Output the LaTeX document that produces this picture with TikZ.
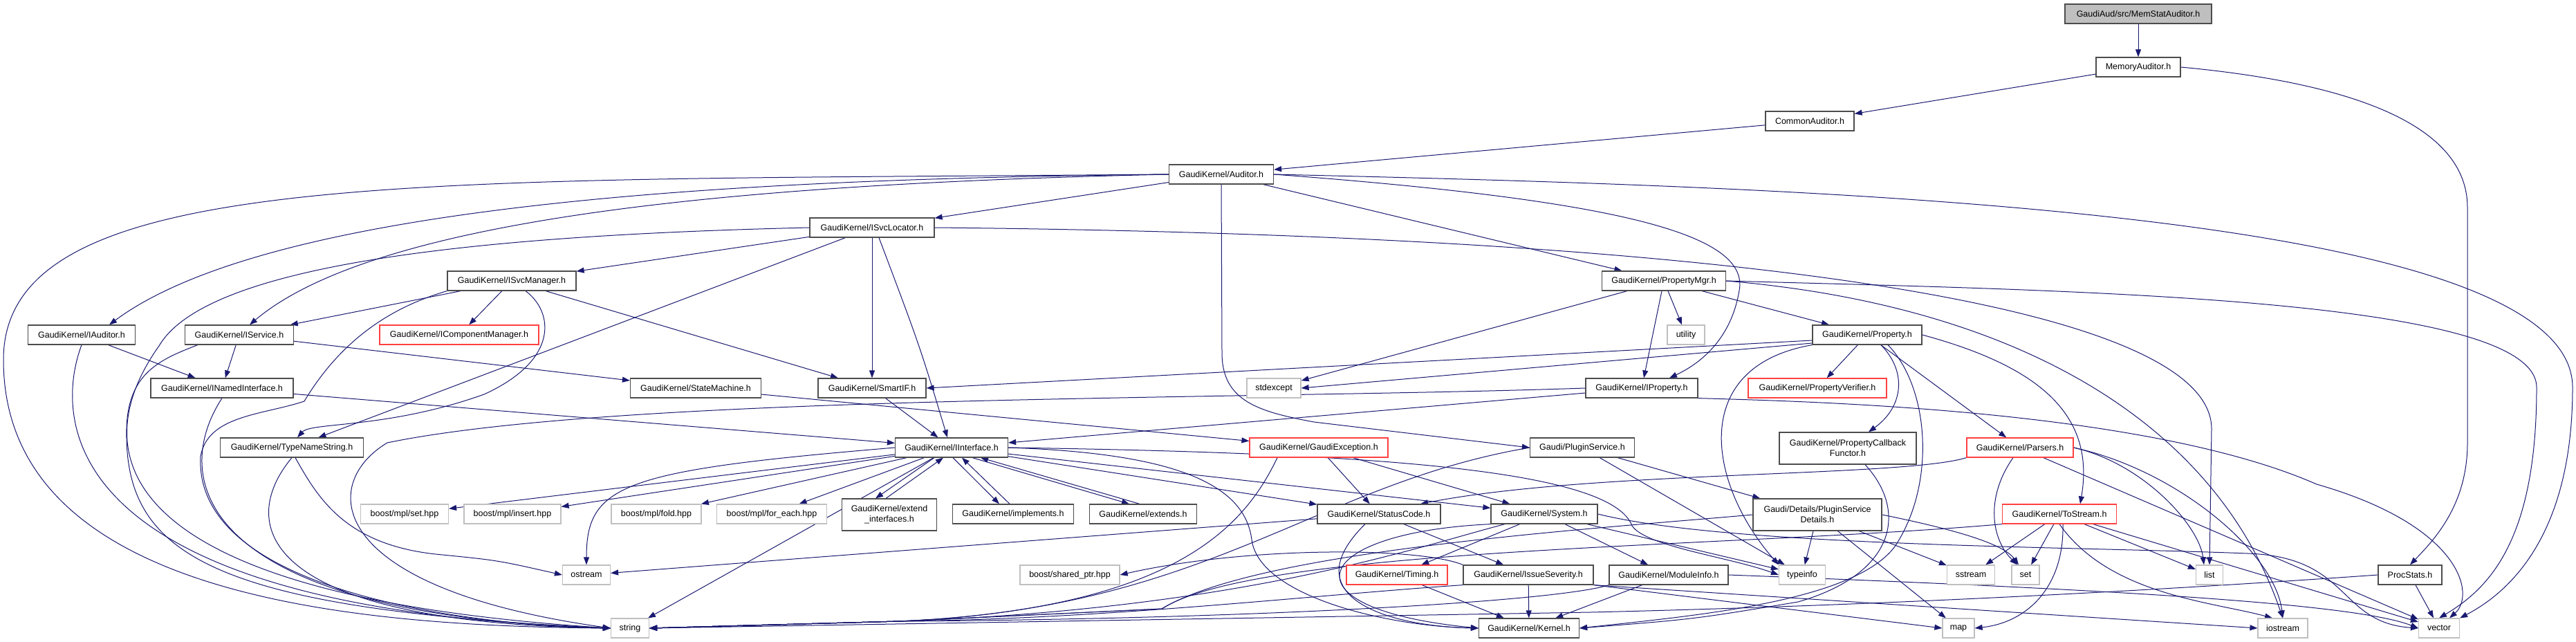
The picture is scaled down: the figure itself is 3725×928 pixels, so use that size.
\documentclass[tikz,border=0pt]{standalone}
\usepackage{fontspec}
\setmainfont{Liberation Sans}
\usetikzlibrary{arrows.meta,backgrounds}

\definecolor{edgeblue}{HTML}{191970}
\definecolor{boxgray}{HTML}{BFBFBF}
\definecolor{truncred}{HTML}{FF4040}

\tikzset{
  hdr/.style={draw=black!70, fill=white, line width=1.2bp, minimum height=28bp,
    inner xsep=2bp, inner ysep=1bp, font=\fontsize{12.5bp}{15bp}\selectfont},
  sys/.style={hdr, draw=boxgray},
  trunc/.style={hdr, draw=truncred},
  root/.style={hdr, fill=boxgray},
  twoline/.style={minimum height=46bp, align=center},
  inc/.style={draw=edgeblue, line width=1bp, -{Triangle[length=11bp,width=8bp]}}
}

\begin{document}
\begin{tikzpicture}[x=1bp, y=-1bp]
	\useasboundingbox (0,0) rectangle (3725,928);

	% rank 0 - 3
	\node[root, minimum width=212bp] (stat) at (3092,20) {GaudiAud/src/MemStatAuditor.h};
	\node[hdr, minimum width=122bp] (mem) at (3092,97) {MemoryAuditor.h};
	\node[hdr, minimum width=128bp] (common) at (2617,175) {CommonAuditor.h};
	\node[hdr, minimum width=151bp] (aud) at (1766,252) {GaudiKernel/Auditor.h};
	\node[hdr, minimum width=180bp] (svcloc) at (1261,329) {GaudiKernel/ISvcLocator.h};
	\node[hdr, minimum width=179bp] (pmgr) at (2406,406) {GaudiKernel/PropertyMgr.h};
	\node[hdr, minimum width=186bp] (svcmgr) at (740,406) {GaudiKernel/ISvcManager.h};

	% rank 4
	\node[hdr, minimum width=155bp] (iaud) at (118,484) {GaudiKernel/IAuditor.h};
	\node[hdr, minimum width=157bp] (isvc) at (346,484) {GaudiKernel/IService.h};
	\node[trunc, minimum width=230bp] (icm) at (664,484) {GaudiKernel/IComponentManager.h};
	\node[sys, minimum width=54bp] (util) at (2438,484) {utility};
	\node[hdr, minimum width=158bp] (prop) at (2700,484) {GaudiKernel/Property.h};

	% rank 5
	\node[hdr, minimum width=206bp] (inamed) at (321,561) {GaudiKernel/INamedInterface.h};
	\node[hdr, minimum width=189bp] (statem) at (1006,561) {GaudiKernel/StateMachine.h};
	\node[hdr, minimum width=156bp] (smartif) at (1261,561) {GaudiKernel/SmartIF.h};
	\node[sys, minimum width=78bp] (stdexc) at (1842,561) {stdexcept};
	\node[hdr, minimum width=162bp] (iprop) at (2374,561) {GaudiKernel/IProperty.h};
	\node[trunc, minimum width=200bp] (pverif) at (2628,561) {GaudiKernel/PropertyVerifier.h};

	% rank 6
	\node[hdr, minimum width=207bp] (tns) at (422,647) {GaudiKernel/TypeNameString.h};
	\node[hdr, minimum width=163bp] (iiface) at (1376,647) {GaudiKernel/IInterface.h};
	\node[trunc, minimum width=200bp] (gexc) at (1907,647) {GaudiKernel/GaudiException.h};
	\node[hdr, minimum width=151bp] (plugin) at (2288,647) {Gaudi/PluginService.h};
	\node[hdr, twoline, minimum width=198bp] (pcb) at (2672,648) {GaudiKernel/PropertyCallback\\Functor.h};
	\node[trunc, minimum width=154bp] (parsers) at (2921,647) {GaudiKernel/Parsers.h};

	% rank 7
	\node[sys, minimum width=127bp] (mplset) at (585,743) {boost/mpl/set.hpp};
	\node[sys, minimum width=140bp] (mplins) at (741,743) {boost/mpl/insert.hpp};
	\node[sys, minimum width=130bp] (mplfold) at (949,743) {boost/mpl/fold.hpp};
	\node[sys, minimum width=159bp] (mplfe) at (1116,743) {boost/mpl/for\_each.hpp};
	\node[hdr, twoline, minimum width=137bp] (extif) at (1286,744) {GaudiKernel/extend\\\_interfaces.h};
	\node[hdr, minimum width=175bp] (impl) at (1465,743) {GaudiKernel/implements.h};
	\node[hdr, minimum width=155bp] (ext) at (1653,743) {GaudiKernel/extends.h};
	\node[hdr, minimum width=178bp] (sc) at (1994,743) {GaudiKernel/StatusCode.h};
	\node[hdr, minimum width=154bp] (sysh) at (2233,743) {GaudiKernel/System.h};
	\node[hdr, twoline, minimum width=186bp] (pdet) at (2628,744) {Gaudi/Details/PluginService\\Details.h};
	\node[trunc, minimum width=165bp] (tostr) at (2978,743) {GaudiKernel/ToStream.h};

	% rank 8
	\node[sys, minimum width=69bp] (ostr) at (848,831) {ostream};
	\node[sys, minimum width=144bp] (shptr) at (1547,831) {boost/shared\_ptr.hpp};
	\node[trunc, minimum width=146bp] (timing) at (2020,831) {GaudiKernel/Timing.h};
	\node[hdr, minimum width=188bp] (issev) at (2210,831) {GaudiKernel/IssueSeverity.h};
	\node[hdr, minimum width=172bp] (modinfo) at (2413,831) {GaudiKernel/ModuleInfo.h};
	\node[sys, minimum width=67bp] (tinfo) at (2606,831) {typeinfo};
	\node[sys, minimum width=69bp] (sstr) at (2850,831) {sstream};
	\node[sys, minimum width=40bp] (setn) at (2929,831) {set};
	\node[sys, minimum width=39bp] (lst) at (3195,831) {list};
	\node[hdr, minimum width=92bp] (proc) at (3485,831) {ProcStats.h};

	% rank 9
	\node[sys, minimum width=55bp] (str) at (911,908) {string};
	\node[hdr, minimum width=145bp] (kern) at (2211,908) {GaudiKernel/Kernel.h};
	\node[sys, minimum width=46bp] (mapn) at (2832,908) {map};
	\node[sys, minimum width=72bp] (iostr) at (3301,908) {iostream};
	\node[sys, minimum width=59bp] (vec) at (3527,908) {vector};

	\begin{pgfonlayer}{background}
	% top chain
	\draw[inc] (stat) -- (mem);
	\draw[inc] (mem) -- (common);
	\draw[inc] (common) -- (aud);
	\draw[inc] (mem.east) .. controls (3400,120) and (3568,180) .. (3568,300) -- (3568,640) .. controls (3568,730) and (3520,780) .. (proc.north);

	% Auditor.h
	\foreach \dst in {svcloc,pmgr}
		\draw[inc] (aud) -- (\dst);
	\draw[inc] (aud.west) .. controls (1100,258) and (400,290) .. ([xshift=40bp]iaud.north);
	\draw[inc] (aud.west) .. controls (1100,265) and (550,310) .. ([xshift=15bp]isvc.north);
	\draw[inc] (aud.east) .. controls (2350,290) and (2530,340) .. (2515,420) .. controls (2505,480) and (2470,520) .. ([xshift=40bp]iprop.north);
	\draw[inc] (aud.south) -- (1767,510) .. controls (1767,580) and (1820,595) .. (1900,610) -- (plugin.west);
	\draw[inc] (aud.west) .. controls (600,262) and (5,240) .. (5,520) .. controls (5,860) and (500,905) .. (str.west);
	\draw[inc] (aud.east) .. controls (2600,270) and (3720,300) .. (3720,560) .. controls (3720,760) and (3640,850) .. (vec.north east);

	% ISvcLocator.h
	\foreach \dst in {svcmgr,smartif,tns}
		\draw[inc] (svcloc) -- (\dst);
	\draw[inc] ([xshift=10bp]svcloc.south) .. controls (1330,500) .. ([xshift=-6bp]iiface.north);
	\draw[inc] (svcloc.west) .. controls (700,340) and (300,380) .. (230,500) .. controls (130,640) and (130,860) .. (str.west);
	\draw[inc] (svcloc.east) .. controls (2500,340) and (3198,440) .. (3198,620) -- (lst.north);

	% ISvcManager.h
	\foreach \dst in {isvc,icm,smartif}
		\draw[inc] (svcmgr) -- (\dst);
	\draw[inc] ([xshift=20bp]svcmgr.south) .. controls (800,450) and (810,520) .. (700,570) .. controls (560,620) and (450,610) .. ([xshift=8bp]tns.north);
	\draw[inc] (svcmgr.south west) .. controls (580,440) and (500,480) .. (440,580) .. controls (380,600) and (300,600) .. (290,660) .. controls (280,860) and (700,905) .. (str.west);

	% PropertyMgr.h
	\foreach \dst in {util,stdexc,iprop,prop}
		\draw[inc] (pmgr) -- (\dst);
	\draw[inc] (pmgr.east) .. controls (2900,440) and (3200,600) .. (iostr.north);
	\draw[inc] (pmgr.east) .. controls (3000,420) and (3668,430) .. (3668,560) .. controls (3668,780) and (3600,850) .. (vec.north);

	% Property.h
	\foreach \dst in {pverif,parsers}
		\draw[inc] (prop) -- (\dst);
	\draw[inc] ([yshift=-8bp]prop.west) -- (smartif.east);
	\draw[inc] ([yshift=-12bp]prop.west) -- (stdexc.east);
	\draw[inc] ([xshift=20bp]prop.south) .. controls (2760,540) and (2750,590) .. ([xshift=30bp]pcb.north);
	\draw[inc] (prop.east) .. controls (2950,530) and (3030,600) .. ([xshift=30bp]tostr.north);
	\draw[inc] (prop.south west) .. controls (2440,530) and (2470,700) .. (tinfo.north west);
	\draw[inc] ([xshift=30bp]prop.south) .. controls (2790,560) and (2800,700) .. (2740,790) .. controls (2680,870) and (2450,890) .. (kern.east);

	% interfaces
	\draw[inc] (iaud) -- (inamed);
	\draw[inc] (iaud.south) .. controls (80,600) and (70,880) .. (str.west);
	\foreach \dst in {inamed,statem}
		\draw[inc] (isvc) -- (\dst);
	\draw[inc] ([xshift=-60bp]isvc.south) .. controls (230,520) and (185,540) .. (183,620) .. controls (180,800) and (300,880) .. (str.west);
	\draw[inc] (inamed) -- (iiface);
	\draw[inc] (inamed.south) .. controls (240,700) and (300,890) .. (str.west);
	\draw[inc] (statem) -- (gexc);
	\draw[inc] (smartif) -- (iiface);
	\draw[inc] (iprop) -- (iiface);
	\draw[inc] (iprop.west) .. controls (1800,578) and (900,570) .. (560,640) .. controls (460,700) and (470,850) .. (str.west);
	\draw[inc] (iprop.south east) .. controls (2600,580) and (3100,590) .. (3350,700) .. controls (3560,760) and (3580,860) .. ([xshift=15bp]vec.north);
	\draw[inc] (tns.south) .. controls (340,760) and (380,900) .. (str.west);
	\draw[inc] ([xshift=5bp]tns.south) .. controls (460,720) and (500,790) .. (640,802) .. controls (720,810) .. (ostr.west);

	% IInterface.h
	\foreach \dst in {mplset,mplins,mplfold,mplfe,sc,sysh,str}
		\draw[inc] (iiface) -- (\dst);
	\draw[inc] (iiface.west) .. controls (900,680) and (848,700) .. (ostr.north);
	\draw[inc] (iiface.east) .. controls (1700,655) and (1800,700) .. (1810,780) .. controls (1820,860) and (2000,905) .. (kern.west);
	\draw[inc] (iiface.east) .. controls (2000,655) and (2330,680) .. (2360,760) .. controls (2380,790) and (2500,805) .. (tinfo.west);
	\draw[inc] ([xshift=-25bp]iiface.south) -- ([xshift=-20bp]extif.north);
	\draw[inc] ([xshift=-5bp]extif.north) -- ([xshift=-12bp]iiface.south);
	\draw[inc] ([xshift=2bp]iiface.south) -- ([xshift=-20bp]impl.north);
	\draw[inc] ([xshift=-5bp]impl.north) -- ([xshift=15bp]iiface.south);
	\draw[inc] ([xshift=30bp]iiface.south) -- ([xshift=-20bp]ext.north);
	\draw[inc] ([xshift=-5bp]ext.north) -- ([xshift=42bp]iiface.south);

	% rank 6 headers
	\foreach \dst in {sc,sysh}
		\draw[inc] (gexc) -- (\dst);
	\draw[inc] ([xshift=-60bp]gexc.south) .. controls (1800,760) and (1700,880) .. (1300,898) -- (str.east);
	\foreach \dst in {pdet,tinfo}
		\draw[inc] (plugin) -- (\dst);
	\draw[inc] (plugin.west) .. controls (1900,700) and (1750,880) .. (1300,898) -- (str.east);
	\draw[inc] ([xshift=25bp]pcb.south) .. controls (2760,740) and (2740,830) .. (2600,870) .. controls (2450,895) .. (kern.east);
	\draw[inc] (parsers) -- (vec);
	\draw[inc] (parsers.south west) .. controls (2750,690) and (2300,680) .. ([xshift=60bp]sc.north);
	\draw[inc] ([xshift=-10bp]parsers.south) .. controls (2870,720) and (2880,780) .. ([xshift=-12bp]setn.north);
	\draw[inc] (parsers.east) .. controls (3100,670) and (3180,760) .. ([xshift=-8bp]lst.north);
	\draw[inc] (parsers.east) .. controls (3150,680) and (3290,800) .. (iostr.north);

	% rank 7 headers
	\foreach \dst in {sstr,setn,lst,vec}
		\draw[inc] (tostr) -- (\dst);
	\draw[inc] ([xshift=5bp]tostr.south) .. controls (2985,850) and (2930,900) .. (mapn.east);
	\draw[inc] (tostr.south) .. controls (3050,860) and (3200,870) .. ([xshift=-15bp]iostr.north);
	\draw[inc] (tostr.south west) .. controls (2500,792) and (1820,790) .. (1680,880) -- (1300,898) -- (str.east);
	\foreach \dst in {issev,ostr}
		\draw[inc] (sc) -- (\dst);
	\draw[inc] ([xshift=-20bp]sc.south) .. controls (1870,860) and (2000,905) .. (kern.west);
	\foreach \dst in {timing,modinfo,tinfo}
		\draw[inc] (sysh) -- (\dst);
	\draw[inc] (sysh.south west) .. controls (1890,770) and (1850,880) .. (kern.west);
	\draw[inc] (sysh.east) .. controls (2500,790) and (3000,790) .. (3250,800) .. controls (3400,805) and (3380,900) .. (vec.west);
	\draw[inc] (sysh) .. controls (2050,790) and (1800,880) .. (1300,898) -- (str.east);
	\foreach \dst in {tinfo,mapn,sstr}
		\draw[inc] (pdet) -- (\dst);
	\draw[inc] (pdet.east) .. controls (2850,770) and (2900,790) .. ([xshift=-10bp]setn.north);
	\draw[inc] (pdet.west) .. controls (2300,765) and (1820,795) .. (1680,880) -- (1300,898) -- (str.east);

	% rank 8 headers
	\draw[inc] (issev) -- (kern);
	\draw[inc] (issev.south east) -- (mapn.west);
	\draw[inc] (issev.south east) -- (iostr.west);
	\draw[inc] (issev.north west) .. controls (2050,790) and (1800,790) .. (shptr.east);
	\draw[inc] (issev.south west) .. controls (1900,860) and (1600,895) .. (1300,898) -- (str.east);
	\draw[inc] (timing) -- (kern);
	\draw[inc] (modinfo) -- (kern);
	\draw[inc] (modinfo.east) .. controls (3000,850) and (3400,870) .. (vec.west);
	\draw[inc] (modinfo.south west) .. controls (2250,870) and (1800,895) .. (1300,898) -- (str.east);
	\draw[inc] (proc) -- (vec);
	\draw[inc] (proc.west) .. controls (3000,862) and (2600,878) .. (2300,885) -- (str.east);
	\end{pgfonlayer}

\end{tikzpicture}
\end{document}
